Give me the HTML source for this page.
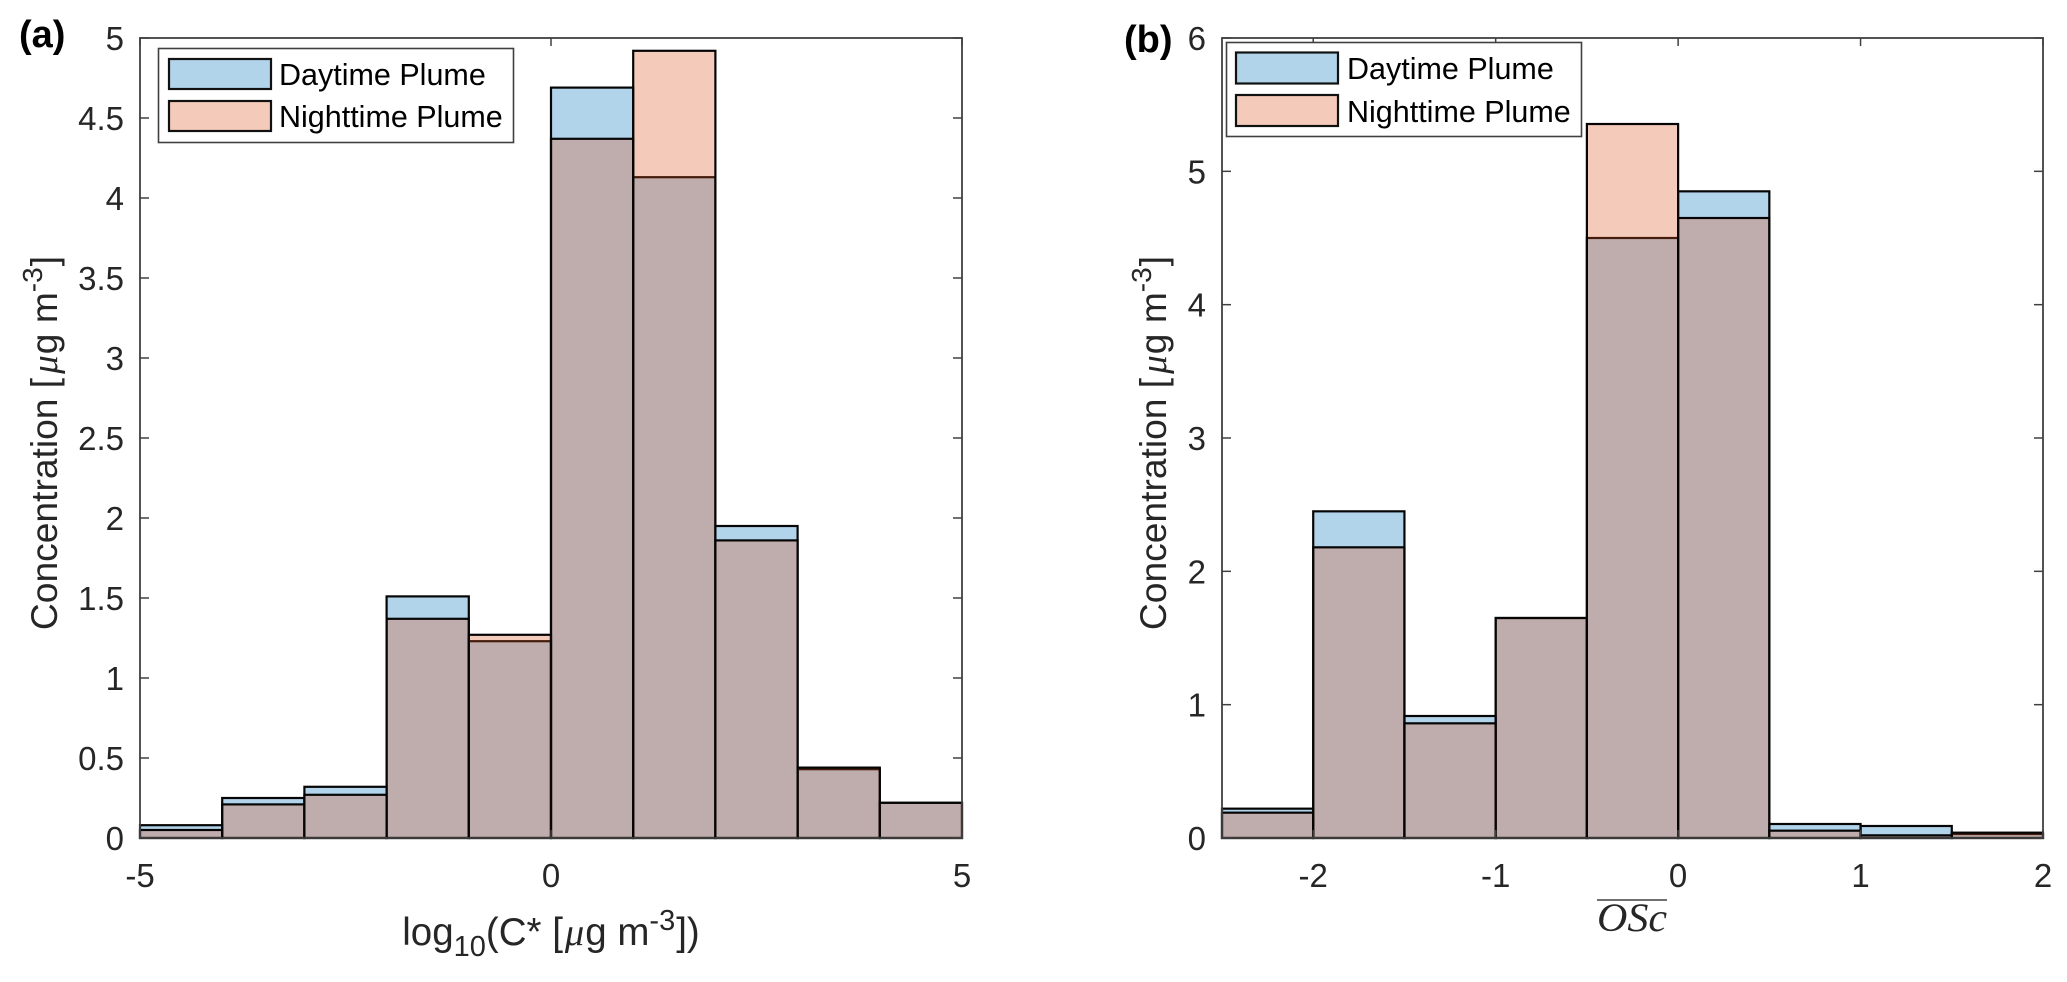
<!DOCTYPE html>
<html lang="en">
<head>
<meta charset="utf-8">
<title>Concentration histograms</title>
<style>
html,body{margin:0;padding:0;background:#fff;}
svg{display:block;}
text{font-family:"Liberation Sans",sans-serif;}
.tick{font-size:33px;fill:#262626;}
.lab{font-size:37.2px;fill:#262626;}
.xlab{font-size:38.5px;fill:#262626;}
.leg{font-size:30.5px;fill:#000;}
.panel{font-size:38px;font-weight:bold;fill:#000;}
.mu{font-family:"Liberation Serif",serif;font-style:italic;}
</style>
</head>
<body>
<svg id="fig" xmlns="http://www.w3.org/2000/svg" width="2067" height="982" viewBox="0 0 2067 982">
  <rect x="0" y="0" width="2067" height="982" fill="#fff"/>
  <g id="a-bars"></g>
  <g id="a-axes"></g>
  <g id="b-bars"></g>
  <g id="b-axes"></g>

  <text class="panel" x="19" y="47">(a)</text>
  <text class="panel" x="1124" y="52">(b)</text>

  <g>
    <rect x="158.5" y="48.5" width="355" height="94" fill="#fff" stroke="#404040" stroke-width="1.6"/>
    <rect x="169" y="59" width="102" height="30" fill="#0072bd" fill-opacity="0.3" stroke="#111" stroke-width="2.2"/>
    <text class="leg" x="279" y="85">Daytime Plume</text>
    <rect x="169" y="101" width="102" height="30" fill="#d95319" fill-opacity="0.3" stroke="#111" stroke-width="2.2"/>
    <text class="leg" x="279" y="127">Nighttime Plume</text>
  </g>
  <g>
    <rect x="1226.5" y="42.5" width="355" height="94" fill="#fff" stroke="#404040" stroke-width="1.6"/>
    <rect x="1236" y="52.5" width="102" height="31" fill="#0072bd" fill-opacity="0.3" stroke="#111" stroke-width="2.2"/>
    <text class="leg" x="1347" y="79">Daytime Plume</text>
    <rect x="1236" y="95" width="102" height="31" fill="#d95319" fill-opacity="0.3" stroke="#111" stroke-width="2.2"/>
    <text class="leg" x="1347" y="122">Nighttime Plume</text>
  </g>

  <text class="lab" transform="translate(57,443) rotate(-90)" text-anchor="middle">Concentration [<tspan class="mu" dx="4">μ</tspan><tspan dx="1">g m</tspan><tspan dy="-15" font-size="28">-3</tspan><tspan dy="15" dx="1">]</tspan></text>
  <text class="lab" transform="translate(1166,443) rotate(-90)" text-anchor="middle">Concentration [<tspan class="mu" dx="4">μ</tspan><tspan dx="1">g m</tspan><tspan dy="-15" font-size="28">-3</tspan><tspan dy="15" dx="1">]</tspan></text>
  <text class="xlab" x="551" y="945" text-anchor="middle">log<tspan dy="11" font-size="29">10</tspan><tspan dy="-11">(C* [</tspan><tspan class="mu" dx="2">μ</tspan><tspan dx="1">g m</tspan><tspan dy="-15" font-size="29">-3</tspan><tspan dy="15" dx="1">])</tspan></text>
  <text x="1632" y="931" text-anchor="middle" font-size="40" textLength="70" lengthAdjust="spacingAndGlyphs" fill="#262626" style="font-family:'Liberation Serif',serif;font-style:italic">OSc</text>
  <line x1="1597" y1="900" x2="1667" y2="900" stroke="#404040" stroke-width="1.5"/>
</svg>
<script>
// Panel (a) data
var aBinEdges = [-5,-4,-3,-2,-1,0,1,2,3,4,5];
var aDaytime = [0.08,0.25,0.32,1.51,1.23,4.69,4.13,1.95,0.43,0.22];
var aNighttime = [0.05,0.21,0.27,1.37,1.27,4.37,4.92,1.86,0.44,0.22];
var aXTicks = [-5,0,5];
var aYTicks = [0,0.5,1,1.5,2,2.5,3,3.5,4,4.5,5];
// Panel (b) data
var bBinEdges = [-2.5,-2,-1.5,-1,-0.5,0,0.5,1,1.5,2];
var bDaytime = [0.22,2.45,0.915,1.65,4.50,4.85,0.105,0.09,0.03];
var bNighttime = [0.19,2.18,0.86,1.65,5.355,4.65,0.055,0.02,0.04];
var bXTicks = [-2,-1,0,1,2];
var bYTicks = [0,1,2,3,4,5,6];

var NS = 'http://www.w3.org/2000/svg';

function makeEl(tag, attrs, parent) {
  var el = document.createElementNS(NS, tag);
  for (var k in attrs) el.setAttribute(k, attrs[k]);
  parent.appendChild(el);
  return el;
}

function drawBars(group, edges, values, sx, sy, color, seriesName) {
  for (var i = 0; i < values.length; i++) {
    var x0 = sx(edges[i]);
    var x1 = sx(edges[i + 1]);
    var top = sy(values[i]);
    var bar = makeEl('rect', {
      x: x0, y: top, width: x1 - x0, height: sy(0) - top,
      fill: color, 'fill-opacity': 0.3, stroke: '#050505', 'stroke-width': 2.2
    }, group);
    
    
  }
}

function drawAxes(group, xMinPx, xMaxPx, yTopPx, yBottomPx, sx, sy, xTicks, yTicks) {
  var axisColor = '#404040';
  var box = makeEl('rect', {
    x: xMinPx, y: yTopPx, width: xMaxPx - xMinPx, height: yBottomPx - yTopPx,
    fill: 'none', stroke: axisColor, 'stroke-width': 1.8
  }, group);
  
  

  xTicks.forEach(function (t) {
    var x = sx(t);
    var t1 = makeEl('line', {x1: x, x2: x, y1: yBottomPx, y2: yBottomPx - 8, stroke: axisColor, 'stroke-width': 1.5}, group);
    
    
    var t2 = makeEl('line', {x1: x, x2: x, y1: yTopPx, y2: yTopPx + 8, stroke: axisColor, 'stroke-width': 1.5}, group);
    
    
    var lab = makeEl('text', {x: x, y: 887, 'text-anchor': 'middle', 'class': 'tick'}, group);
    
    
    lab.textContent = String(t);
  });

  yTicks.forEach(function (t) {
    var y = sy(t);
    var t1 = makeEl('line', {x1: xMinPx, x2: xMinPx + 9, y1: y, y2: y, stroke: axisColor, 'stroke-width': 1.5}, group);
    
    
    var t2 = makeEl('line', {x1: xMaxPx, x2: xMaxPx - 9, y1: y, y2: y, stroke: axisColor, 'stroke-width': 1.5}, group);
    
    
    var lab = makeEl('text', {x: xMinPx - 16, y: y + 12, 'text-anchor': 'end', 'class': 'tick'}, group);
    
    
    lab.textContent = String(t);
  });
}

function linear(d0, d1, r0, r1) {
  return function (v) { return r0 + (v - d0) * (r1 - r0) / (d1 - d0); };
}

var TOP = 38, BOTTOM = 838;

var axLeft = 140, axRight = 962;
var asx = linear(-5, 5, axLeft, axRight);
var asy = linear(0, 5, BOTTOM, TOP);
var aBars = document.getElementById('a-bars');
drawBars(aBars, aBinEdges, aDaytime, asx, asy, '#0072bd', 'daytime');
drawBars(aBars, aBinEdges, aNighttime, asx, asy, '#d95319', 'nighttime');
drawAxes(document.getElementById('a-axes'), axLeft, axRight, TOP, BOTTOM, asx, asy, aXTicks, aYTicks);

var bxLeft = 1222, bxRight = 2043;
var bsx = linear(-2.5, 2, bxLeft, bxRight);
var bsy = linear(0, 6, BOTTOM, TOP);
var bBars = document.getElementById('b-bars');
drawBars(bBars, bBinEdges, bDaytime, bsx, bsy, '#0072bd', 'daytime');
drawBars(bBars, bBinEdges, bNighttime, bsx, bsy, '#d95319', 'nighttime');
drawAxes(document.getElementById('b-axes'), bxLeft, bxRight, TOP, BOTTOM, bsx, bsy, bXTicks, bYTicks);
</script>
</body>
</html>
